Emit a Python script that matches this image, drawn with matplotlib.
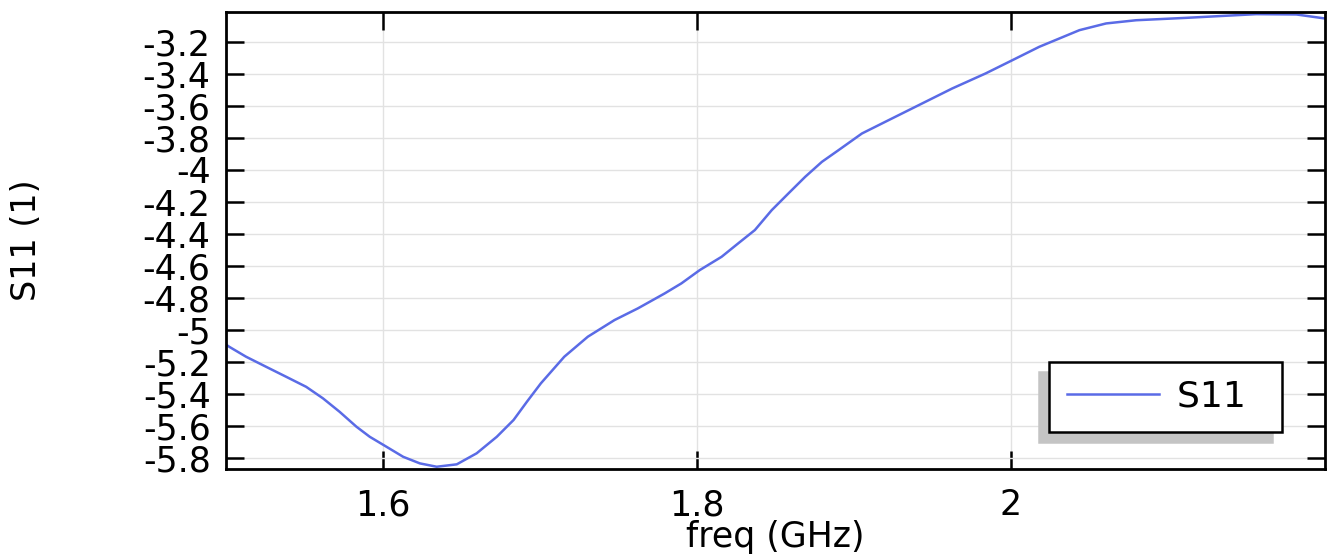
import numpy as np
import matplotlib
matplotlib.use("Agg")
import matplotlib.pyplot as plt

# values (freq in GHz, S11)
freq = [1.5000, 1.5021, 1.5128, 1.5256, 1.5383, 1.5511, 1.5618, 1.5724, 1.5831,
        1.5916, 1.6022, 1.6129, 1.6235, 1.6342, 1.6470, 1.6597, 1.6725, 1.6832,
        1.6917, 1.7006, 1.7155, 1.7305, 1.7475, 1.7624, 1.7794, 1.7901, 1.8018,
        1.8157, 1.8263, 1.8369, 1.8476, 1.8583, 1.8689, 1.8796, 1.8902, 1.9051,
        1.9200, 1.9413, 1.9626, 1.9839, 2.0010, 2.0180, 2.0308, 2.0436, 2.0606,
        2.0797, 2.1117, 2.1562, 2.1818, 2.2000]
s11 = [-5.090, -5.104, -5.166, -5.229, -5.291, -5.354, -5.426, -5.510, -5.603,
       -5.666, -5.728, -5.791, -5.832, -5.853, -5.838, -5.769, -5.666, -5.561,
       -5.447, -5.332, -5.166, -5.041, -4.937, -4.864, -4.771, -4.708, -4.625,
       -4.542, -4.458, -4.375, -4.251, -4.146, -4.043, -3.949, -3.876, -3.772,
       -3.699, -3.595, -3.491, -3.397, -3.314, -3.231, -3.179, -3.127, -3.085,
       -3.065, -3.050, -3.027, -3.029, -3.054]

xticks = [1.6, 1.8, 2.0]
xtick_labels = ["1.6", "1.8", "2"]
yticks = [-3.2, -3.4, -3.6, -3.8, -4.0, -4.2, -4.4, -4.6, -4.8,
          -5.0, -5.2, -5.4, -5.6, -5.8]
ytick_labels = ["-3.2", "-3.4", "-3.6", "-3.8", "-4", "-4.2", "-4.4", "-4.6",
                "-4.8", "-5", "-5.2", "-5.4", "-5.6", "-5.8"]

plt.rcParams['font.family'] = ['DejaVu Sans']

fig = plt.figure(figsize=(13.37, 5.56), dpi=100)
ax = fig.add_axes([0.169, 0.1565, 0.822, 0.8215])

ax.plot(freq, s11, color='#5a6be6', linewidth=1.8, label='S11\u2002',
        solid_joinstyle='round')

ax.set_xlim(1.5, 2.2)
ax.set_ylim(-5.867, -3.015)
ax.set_xticks(xticks)
ax.set_xticklabels(xtick_labels)
ax.set_yticks(yticks)
ax.set_yticklabels(ytick_labels)

ax.grid(True, color='#e2e2e2', linewidth=1.0)
ax.set_axisbelow(True)
for s in ax.spines.values():
    s.set_linewidth(2.0)
    s.set_color('black')

ax.tick_params(axis='both', direction='in', length=13, width=1.8,
               top=True, right=True, labelsize=25, color='black')
ax.tick_params(axis='y', pad=11)
ax.tick_params(axis='x', pad=14)

ax.set_xlabel('freq (GHz)', fontsize=25, labelpad=-2)
ax.set_ylabel('S11 (1)', fontsize=24, labelpad=72)

leg = ax.legend(loc='lower right', bbox_to_anchor=(0.961, 0.081),
                borderaxespad=0, fontsize=26, handlelength=2.55,
                handletextpad=0.5, borderpad=0.5, fancybox=False,
                framealpha=1, edgecolor='black',
                shadow={'ox': -7, 'oy': -7, 'facecolor': '#c4c4c4',
                        'edgecolor': '#c4c4c4', 'alpha': 1})
leg.get_frame().set_linewidth(1.8)

fig.savefig('out.png', dpi=100)
